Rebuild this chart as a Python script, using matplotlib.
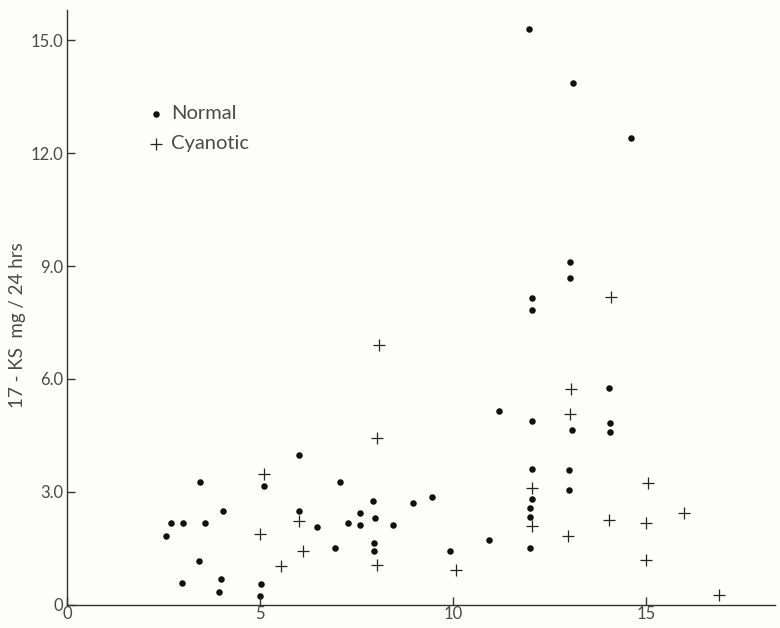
import matplotlib
matplotlib.use("Agg")
import matplotlib.pyplot as plt

# values
normal_x = [2.55, 2.7, 3.0, 2.98, 3.42, 3.45, 3.58, 3.94, 4.0, 4.05,
            5.03, 5.01, 5.1, 6.0, 6.0, 6.48, 6.95, 7.08, 7.28, 7.58,
            7.6, 7.93, 7.97, 7.95, 7.95, 8.45, 8.96, 9.45, 9.92, 10.94,
            11.19, 11.96, 12.05, 12.05, 12.05, 12.0, 12.0, 12.0, 12.05, 12.05,
            13.04, 13.04, 13.07, 13.0, 13.0, 13.12, 14.05, 14.06, 14.06, 14.61]
normal_y = [1.83, 2.17, 2.17, 0.58, 1.17, 3.25, 2.17, 0.35, 0.68, 2.5,
            0.54, 0.23, 3.15, 3.97, 2.5, 2.07, 1.5, 3.25, 2.17, 2.13,
            2.45, 2.77, 2.30, 1.64, 1.42, 2.13, 2.71, 2.87, 1.43, 1.72,
            5.15, 15.29, 4.89, 3.62, 2.81, 2.56, 2.34, 1.51, 8.14, 7.84,
            9.10, 8.68, 4.65, 3.58, 3.06, 13.87, 5.75, 4.84, 4.58, 12.40]

cyan_x = [5.1, 5.0, 5.54, 6.02, 6.1, 8.03, 8.08, 8.02, 10.08, 12.05,
          12.05, 13.06, 13.04, 12.99, 14.08, 14.05, 15.04, 15.0, 15.0, 15.99, 16.88]
cyan_y = [3.48, 1.87, 1.02, 2.22, 1.42, 4.44, 6.9, 1.05, 0.92, 3.09,
          2.1, 5.72, 5.07, 1.82, 8.17, 2.24, 3.24, 2.16, 1.19, 2.43, 0.26]

x_ticks = [0, 5, 10, 15]
y_ticks = [0, 3, 6, 9, 12, 15]
y_tick_labels = ["0", "3.0", "6.0", "9.0", "12.0", "15.0"]

plt.rcParams["font.family"] = ["Lato", "DejaVu Sans"]
txt = "#4a4a4a"

fig = plt.figure(figsize=(7.8, 6.28), dpi=100)
fig.patch.set_facecolor("#fdfdfb")
ax = fig.add_axes([0.086, 0.037, 0.908, 0.947])
ax.set_facecolor("#fdfdfb")

ax.scatter(normal_x, normal_y, s=22, c="#111111", marker="o", linewidths=0,
           label="Normal")
ax.scatter(cyan_x, cyan_y, s=80, c="#222222", marker="+", linewidths=0.9,
           label="Cyanotic")

ax.set_xlim(0, 18.35)
ax.set_ylim(0, 15.8)

for s in ["top", "right"]:
    ax.spines[s].set_visible(False)
for s in ["left", "bottom"]:
    ax.spines[s].set_color("#333333")
    ax.spines[s].set_linewidth(1.0)

ax.set_xticks(x_ticks)
ax.set_xticklabels([str(v) for v in x_ticks])
ax.set_yticks(y_ticks)
ax.set_yticklabels(y_tick_labels)
ax.tick_params(direction="in", length=6, width=1.0, color="#333333",
               labelcolor=txt, labelsize=12, pad=3)
ax.tick_params(axis="x", pad=1)

ax.set_ylabel("17 - KS  mg / 24 hrs", color=txt, fontsize=13.5)
ax.yaxis.set_label_coords(-0.058, 0.47)

ax.legend(loc="upper left", bbox_to_anchor=(0.114, 0.84), frameon=False,
          fontsize=14.5, handlelength=0.8, handletextpad=0.35,
          labelspacing=0.65, labelcolor=txt, borderaxespad=0, borderpad=0)

fig.savefig("out.png", dpi=100, facecolor=fig.get_facecolor())
